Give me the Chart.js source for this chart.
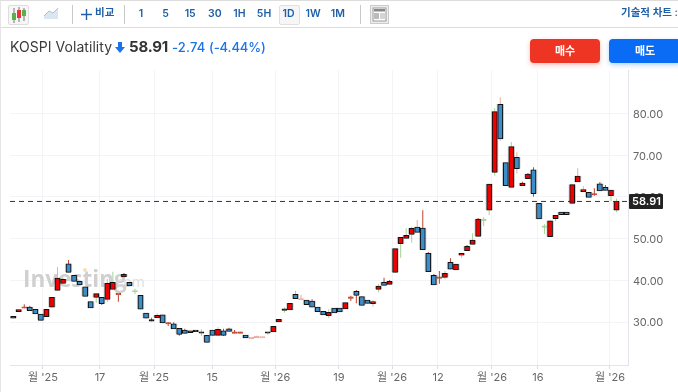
<!DOCTYPE html>
<html lang="ko">
<head>
<meta charset="utf-8">
<title>KOSPI Volatility</title>
<script src="https://cdn.jsdelivr.net/npm/chart.js@4/dist/chart.umd.min.js"></script>
<style>
  html,body{margin:0;padding:0;background:#fff;overflow:hidden}
  body{width:678px;height:392px;position:relative;font-family:Inter,"Noto Sans CJK KR",sans-serif}
  #chartWrap{position:absolute;left:0;top:0;width:678px;height:392px}
  .abs{position:absolute;white-space:nowrap}
  #edgeTop{left:0;top:0;width:678px;height:1px;background:#ddd}
  #edgeBar{left:0;top:27px;width:678px;height:1px;background:#dcdcdc}
  #edgeLeft{left:0;top:0;width:1px;height:392px;background:#e4e4e4}
  .sep{top:5px;width:1px;height:19px;background:#c9c9c9}
  .tf{top:6px;width:24px;text-align:center;font-size:10.5px;font-weight:600;color:#1f5fa6;line-height:15px}
  #active{left:279px;top:5px;width:19px;height:18px;background:#f6f6f6;border:1px solid #e0e0e0;border-radius:2px}
  .btn{top:39px;height:24px;line-height:24px;text-align:center;color:#fff;font-size:11px;font-weight:700;border-radius:4px}
</style>
</head>
<body>
<div id="chartWrap"><canvas id="kospiChart" width="678" height="392"></canvas></div>
<div class="abs" id="edgeTop"></div>
<div class="abs" id="edgeBar"></div>
<div class="abs" id="edgeLeft"></div>

<div class="abs" style="left:8px;top:5px;width:19px;height:18px;border:1px solid #ddd;border-radius:2px;background:#f6f6f6"></div>
<svg class="abs" style="left:8px;top:5px" width="21" height="20">
  <path d="M6 3v15M11 2v15M16 3v13" stroke="#777" stroke-width="1"/>
  <rect x="4" y="8" width="4" height="7" fill="#5bb04c"/><rect x="9" y="5" width="4" height="8" fill="#e33"/><rect x="14" y="5" width="4" height="6" fill="#5bb04c"/>
</svg>
<svg class="abs" style="left:43px;top:7px" width="17" height="13">
  <path d="M1 9L6 4L10 6L15 1V12H1Z" fill="#dbe6f2"/><path d="M1 9L6 4L10 6L15 1" fill="none" stroke="#a9c2dc"/>
</svg>
<div class="abs sep" style="left:72px"></div>
<svg class="abs" style="left:81px;top:9px" width="11" height="11"><path d="M5.5 0v11M0 5.5h11" stroke="#1f5fa6" stroke-width="1.4"/></svg>
<div class="abs" style="left:95px;top:5px;font-size:10.5px;font-weight:600;color:#1f5fa6;line-height:15px">비교</div>
<div class="abs sep" style="left:124px"></div>
<div class="abs" id="active"></div>
<div id="tfBox"></div>
<div class="abs sep" style="left:360px"></div>
<svg class="abs" style="left:370px;top:5px" width="19" height="19">
  <rect x=".5" y=".5" width="18" height="18" fill="#eee" stroke="#ccc"/><rect x="3" y="3" width="13" height="13" fill="#fff" stroke="#999"/><rect x="4" y="4" width="11" height="2.5" fill="#888"/><rect x="4" y="8" width="5" height="6" fill="#bbb"/><path d="M10 9h5M10 11h5M10 13h5" stroke="#aaa"/>
</svg>
<div class="abs" style="left:621px;top:5px;font-size:10.5px;font-weight:600;color:#1f5fa6;line-height:15px">기술적 차트 :</div>

<div class="abs" style="left:10px;top:38px;font-size:14px;color:#3a3a3a;line-height:18px;letter-spacing:.05px">KOSPI Volatility</div>
<svg class="abs" style="left:115px;top:42px" width="10" height="11"><path d="M3 0h4v5h3L5 11L0 5h3Z" fill="#1a73e8"/></svg>
<div class="abs" style="left:129px;top:38px;font-size:15px;font-weight:700;color:#333;line-height:18px;letter-spacing:-.2px">58.91</div>
<div class="abs" style="left:172px;top:38px;font-size:13px;font-weight:500;color:#1a73e8;line-height:18px;letter-spacing:.2px">-2.74</div>
<div class="abs" style="left:209px;top:38px;font-size:13px;font-weight:500;color:#1a73e8;line-height:18px;letter-spacing:-.1px">(-4.44%)</div>

<div class="abs btn" style="left:530px;width:70px;background:#ee3524;box-shadow:0 2px 5px rgba(238,53,36,.3)">매수</div>
<div class="abs btn" style="left:609px;width:72px;background:#0a6cf5;box-shadow:0 2px 5px rgba(10,108,245,.3)">매도</div>

<script>
// values
const opens = [
  30.89,32.47,33.29,33.6,33.05,31.92,31.27,33.53,37.6,39.28,
  43.98,41.2,39.76,38.46,34.87,35.92,35.92,35.44,37.84,36.55,
  40.79,39.52,37.19,36.4,32.16,30.4,31.03,31.75,29.52,29.59,
  28.49,28.08,27.43,27.9,27.5,26.81,28.08,26.81,27.91,28.39,
  27.29,27.29,26.88,26.0,26.24,26.16,27.5,27.6,30,32.95,
  32.88,36.64,35.28,35.28,35.04,33.6,32.57,31.51,33.36,33.36,
  33.12,35.68,37.36,36.07,35.28,34.39,37.84,39.52,39.04,41.92,
  48.78,50.07,51.03,52.78,52.54,46.47,41.2,40.48,40.72,44.32,
  42.47,46.0,47.1,48.63,50.55,54.29,56.79,65.9,82.2,68.2,
  62.3,69.49,62.68,64.36,66.52,58.46,52.71,50.45,54.77,56.38,
  56.38,58.46,63.57,61.25,61.1,60.45,63.16,62.3,60.29,56.79
];
const closes = [
  31.37,32.95,33.29,32.71,31.92,30.41,33.05,35.92,40.55,40.24,
  41.92,39.76,38.87,36.16,33.36,36.79,34.39,39.28,39.52,36.55,
  41.44,38.63,37.19,33.05,30.89,30.2,31.61,29.76,29.52,28.32,
  27.05,27.29,27.91,27.7,27.3,25.13,26.81,28.25,26.81,27.77,
  27.29,27.29,26.16,26.0,26.24,26.16,27.3,28.97,30.65,32.8,
  34.48,35.59,35.28,34.15,33.53,32.47,31.68,32.33,32.16,32.4,
  34.63,35.68,36.4,34.0,34.48,34.87,38.63,38.8,39.76,47.58,
  50.31,50.79,52.47,51.51,47.34,42.06,38.87,40.48,41.68,42.64,
  43.91,46.47,48.15,49.66,54.7,54.29,63.09,80.43,73.88,62.68,
  72.04,66.76,63.33,65.49,60.77,54.7,52.71,54.29,55.59,55.73,
  55.73,62.93,65.01,61.73,59.9,60.45,61.41,61.58,61.65,58.91
];
const highs = [
  31.37,32.95,34.24,33.91,33.05,31.92,33.05,35.92,43.19,40.62,
  44.87,41.2,39.76,38.46,34.87,36.79,35.92,40.31,42.06,36.55,
  41.75,39.52,37.99,36.4,32.16,31.03,32.09,31.75,30,29.93,
  28.49,28.39,27.91,27.9,28.25,26.81,28.08,28.73,28.39,28.63,
  28.08,27.67,26.88,26.0,26.71,26.16,27.5,28.97,30.65,33.53,
  34.48,37.51,36.47,35.28,35.44,33.6,32.57,33.05,33.36,33.36,
  34.63,36.31,37.67,36.07,35.28,35.2,39.04,40.62,40.07,47.58,
  50.31,52.47,52.9,54.46,56.79,46.8,41.5,42.23,42.23,45.28,
  43.91,46.47,48.46,51.27,54.94,55.11,63.09,81.25,83.88,68.2,
  73.16,70.69,63.64,65.73,67.1,58.46,53.43,54.29,55.59,56.38,
  56.38,62.93,66.86,62.54,61.1,62.06,63.57,62.85,61.65,59.6
];
const lows = [
  30.89,32.47,33.29,32.71,31.92,30.41,31.27,33.53,37.6,39.28,
  41.92,39.76,38.87,36.16,33.36,34.63,34.08,34.8,37.84,34.87,
  40.79,38.63,36.71,33.05,30.89,30.2,31.03,29.76,29.04,28.32,
  26.71,27.29,27.43,27.7,26.64,25.13,26.81,26.81,26.64,27.77,
  27.29,27.29,26.16,26.0,26.24,26.16,26.95,27.6,30,32.23,
  32.88,35.59,35.28,34.15,33.53,32.47,31.68,30.96,32.16,32.4,
  33.12,35.04,34.48,34.0,34.48,33.67,37.12,38.8,39.04,41.92,
  45.42,50.07,49.02,51.51,47.34,42.06,38.87,39.18,40.24,42.64,
  42.47,45.42,47.1,48.63,50.55,53.02,55.66,65.08,73.48,62.68,
  62.3,65.66,62.68,64.36,60.05,54.7,51.17,50.45,54.22,55.73,
  55.73,58.46,63.57,61.25,59.9,60.3,61.41,61.58,59.02,56.3
];
// candles whose wick is drawn green or pale in the picture, the rest are red
const greenWicks = [8,9,15,17,18,22,26,34,37,46,49,57,65,66,70,71,72,78,81,83,85,86,87,90,96,98,102,103,108,109];
const paleWicks = [43,44,45,51,52,73,88,91];

const lastPrice = 58.91;
const yTickValues = [30,40,50,60,70,80];
// tick spots sit between candles on some dates
const xTickSpots = [5.38,15.68,25.44,35.97,47.35,58.86,68.44,76.75,86.5,94.8,107.82];
const xTickLabels = ["월 '25","17","월 '25","15","월 '26","19","월 '26","12","월 '26","16","월 '26"];
const timeframes = ['1','5','15','30','1H','5H','1D','1W','1M'];

const X_MIN = -0.58, X_MAX = 111.08, Y_MIN = 19.69, Y_MAX = 90.43;
const UP = '#f00000', DOWN = '#3c8dc8', EDGE = '#111';
const WICK_RED = '#c0432f', WICK_GREEN = '#a5d29a', WICK_PALE = '#e9a99c';

// toolbar buttons
timeframes.forEach((t,i)=>{
  const d = document.createElement('div');
  d.className = 'abs tf';
  d.style.left = (129 + i*24.6) + 'px';
  d.textContent = t;
  document.getElementById('tfBox').appendChild(d);
});

function wickColor(i){
  if (greenWicks.includes(i)) return WICK_GREEN;
  if (paleWicks.includes(i)) return WICK_PALE;
  return WICK_RED;
}
function bodyFill(i){
  const diff = closes[i] - opens[i];
  if (diff === 0) return wickColor(i);
  if (Math.abs(diff) < 0.3) return EDGE;
  return diff > 0 ? UP : DOWN;
}
function bodyEdge(i){ return opens[i] === closes[i] ? wickColor(i) : EDGE; }

const idx = opens.map((_,i)=>i);

// dark box with the last price, watermark behind the candles
const overlayPlugin = {
  id:'overlay',
  beforeDatasetsDraw(chart){
    const ctx = chart.ctx;
    ctx.save();
    ctx.textBaseline = 'alphabetic';
    ctx.fillStyle = '#d0d0d0';
    ctx.font = '700 22.5px "Open Sans"';
    ctx.fillText('Investing', 23, 287);
    ctx.fillStyle = '#dedede';
    ctx.font = '400 14px "Open Sans"';
    ctx.fillText('.com', 113, 287);
    ctx.fillStyle = '#f7dcc0';
    ctx.beginPath(); ctx.arc(85,270,2,0,7); ctx.fill();
    ctx.restore();
  },
  afterDraw(chart){
    const ctx = chart.ctx, y = chart.scales.y.getPixelForValue(lastPrice);
    ctx.save();
    ctx.fillStyle = '#222';
    ctx.beginPath(); ctx.roundRect(629,y-7.5,34,15,1); ctx.fill();
    ctx.fillStyle = '#fff';
    ctx.font = '600 11px Inter';
    ctx.textAlign = 'center';
    ctx.textBaseline = 'middle';
    ctx.fillText(lastPrice.toFixed(2),646.5,y+.5);
    ctx.restore();
  }
};

new Chart(document.getElementById('kospiChart'),{
  type:'bar',
  data:{
    datasets:[
      { type:'line', data:[{x:X_MIN,y:lastPrice},{x:X_MAX,y:lastPrice}], borderColor:'#333', borderWidth:1, borderDash:[5,4], pointRadius:0, order:1 },
      { data:idx.map(i=>({x:i,y:[opens[i],closes[i]]})), backgroundColor:idx.map(bodyFill), borderColor:idx.map(bodyEdge), borderWidth:1, barThickness:5, minBarLength:1.5, grouped:false, borderSkipped:false, order:2 },
      { data:idx.map(i=>({x:i,y:[lows[i],highs[i]]})), backgroundColor:idx.map(wickColor), barThickness:1, grouped:false, inflateAmount:0, order:3 },
      { data:idx.filter(i=>Math.abs(closes[i]-opens[i])>=0.3).map(i=>({x:i,y:[opens[i],closes[i]]})), backgroundColor:'rgba(110,110,110,.32)', borderColor:'rgba(110,110,110,.32)', borderWidth:1, barThickness:7, grouped:false, order:4 }
    ]
  },
  options:{
    responsive:false,
    animation:false,
    layout:{ padding:{ top:70, left:10, right:0, bottom:0 } },
    plugins:{ legend:{display:false}, tooltip:{enabled:false} },
    scales:{
      x:{
        type:'linear', offset:false, min:X_MIN, max:X_MAX,
        afterBuildTicks:s=>{ s.ticks = xTickSpots.map(v=>({value:v})); },
        afterFit:s=>{ s.height = 27; },
        grid:{ offset:false, color:'#f3f3f8', tickColor:'#d8dce6', tickLength:4, drawTicks:true },
        border:{ color:'#e1e4ec' },
        ticks:{ autoSkip:false, maxRotation:0, padding:2, color:'#666', font:{ family:'Inter,"Noto Sans CJK KR"', size:11 },
          callback:(v,i)=>xTickLabels[i] }
      },
      y:{
        position:'right', min:Y_MIN, max:Y_MAX,
        afterBuildTicks:s=>{ s.ticks = yTickValues.map(v=>({value:v})); },
        afterFit:s=>{ s.width = 50; },
        grid:{ color:'#f3f3f8', drawTicks:false },
        border:{ color:'#e1e4ec' },
        ticks:{ padding:5, labelOffset:1, color:'#666', font:{ family:'Inter', size:11 }, callback:v=>v.toFixed(2) }
      }
    }
  },
  plugins:[overlayPlugin]
});
</script>
</body>
</html>
